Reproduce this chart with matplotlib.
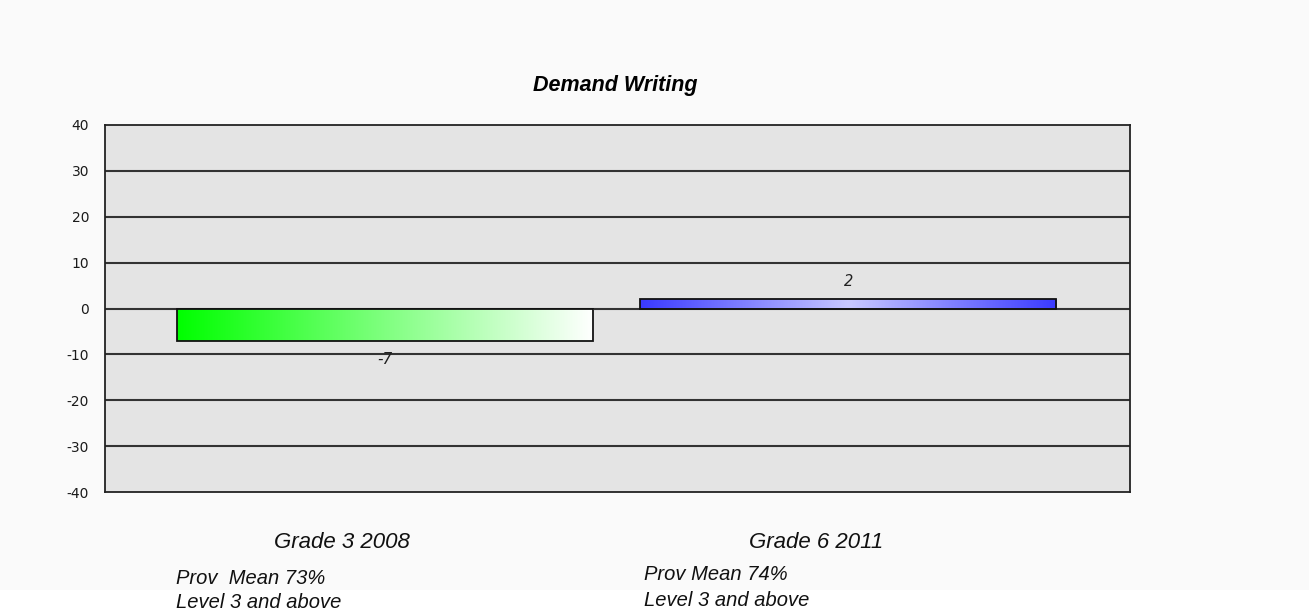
import numpy as np
import matplotlib
matplotlib.use('Agg')
import matplotlib.pyplot as plt
from matplotlib.colors import LinearSegmentedColormap

# data
categories = ['Grade 3 2008', 'Grade 6 2011']
values = [-7, 2]
notes = [['Prov  Mean 73%', 'Level 3 and above'],
         ['Prov Mean 74%', 'Level 3 and above']]
yticks = [40, 30, 20, 10, 0, -10, -20, -30, -40]

plt.rcParams['font.family'] = ['Liberation Sans', 'DejaVu Sans']

fig = plt.figure(figsize=(13.09, 6.13), dpi=100)
fig.patch.set_facecolor('white')
fig.patches.append(plt.Rectangle((0, 1 - 590 / 613), 1, 590 / 613, transform=fig.transFigure,
                                 facecolor='#fafafa', edgecolor='none', zorder=-10))

W, H = 1309, 613
ax = fig.add_axes([105 / W, 1 - 492 / H, 1025 / W, 367 / H])
ax.set_facecolor('#e4e4e4')
ax.set_ylim(-40, 40)
ax.set_xlim(-0.604, 1.608)
ax.set_yticks(yticks)
ax.set_yticklabels([str(t) for t in yticks], fontsize=10, family='DejaVu Sans', color='#1a1a1a')
ax.set_xticks([])
ax.tick_params(axis='y', length=0, pad=11.5)
for s in ax.spines.values():
    s.set_color('#222222')
    s.set_linewidth(1.3)
for t in yticks[1:-1]:
    ax.axhline(t, color='#333333', lw=1.5, zorder=1)

green = LinearSegmentedColormap.from_list('g', ['#00ff00', '#80ff80', '#ffffff'])
blue = LinearSegmentedColormap.from_list('b', ['#3a3aff', '#c8c8ff', '#3a3aff'])
cmaps = [green, blue]
width = 0.898
for i, v in enumerate(values):
    bar = ax.bar(i, v, width=width, color='none', edgecolor='#111111', lw=1.3, zorder=4)[0]
    x0 = i - width / 2
    grad = np.linspace(0, 1, 256).reshape(1, -1)
    im = ax.imshow(grad, cmap=cmaps[i], aspect='auto',
                   extent=[x0, x0 + width, min(0, v), max(0, v)], zorder=3)
    im.set_clip_path(bar)
    if v < 0:
        ax.text(i, v - 2.4, str(v), ha='center', va='top',
                fontsize=11, style='italic', family='DejaVu Sans', color='#222222', zorder=5)
    else:
        ax.text(i, v + 2.2, str(v), ha='center', va='bottom',
                fontsize=10.5, style='italic', family='DejaVu Sans', color='#222222', zorder=5)

fig.text(615 / W, 1 - 85 / H, 'Demand Writing', ha='center', va='center',
         fontsize=15.5, weight='bold', style='italic')

cat_x = [342, 816]
note_x = [176, 644]
note_y = [[578, 603], [575, 601]]
for i, c in enumerate(categories):
    fig.text(cat_x[i] / W, 1 - 543 / H, c, ha='center', va='center',
             fontsize=16, style='italic', color='#111111')
    for j, n in enumerate(notes[i]):
        fig.text(note_x[i] / W, 1 - note_y[i][j] / H, n, ha='left', va='center',
                 fontsize=14.5, style='italic', color='#111111')

fig.savefig('out.png', dpi=100, facecolor=fig.get_facecolor())
